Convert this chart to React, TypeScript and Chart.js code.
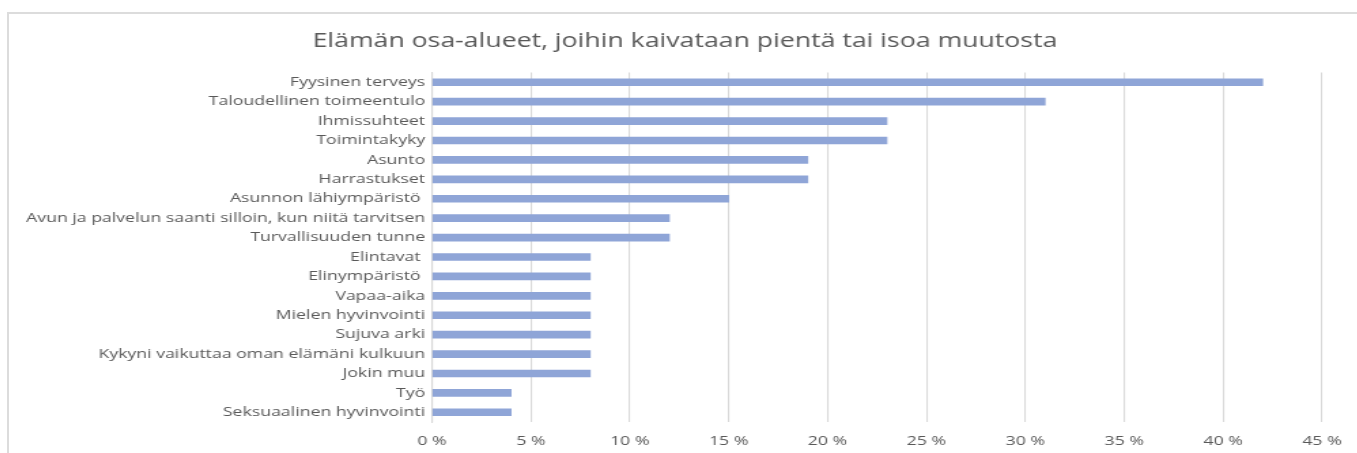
import React, { useEffect, useRef } from "react";
import { Chart, registerables } from "chart.js";

Chart.register(...registerables);

const title = "Elämän osa-alueet, joihin kaivataan pientä tai isoa muutosta";

const categories = [
  "Fyysinen terveys",
  "Taloudellinen toimeentulo",
  "Ihmissuhteet",
  "Toimintakyky",
  "Asunto",
  "Harrastukset",
  "Asunnon lähiympäristö ",
  "Avun ja palvelun saanti silloin, kun niitä tarvitsen",
  "Turvallisuuden tunne",
  "Elintavat ",
  "Elinympäristö ",
  "Vapaa-aika",
  "Mielen hyvinvointi",
  "Sujuva arki",
  "Kykyni vaikuttaa oman elämäni kulkuun",
  "Jokin muu",
  "Työ",
  "Seksuaalinen hyvinvointi",
];

const values = [42, 31, 23, 23, 19, 19, 15, 12, 12, 8, 8, 8, 8, 8, 8, 8, 4, 4];

const xMin = 0;
const xMax = 45;
const xStep = 5;

// horizontal stretch of the original picture
const SX = 1.36;
const PAGE_W = 1356;
const CANVAS_W = Math.round(PAGE_W / SX);
const CANVAS_H = 453;

export default function App() {
  const ref = useRef<HTMLCanvasElement | null>(null);

  useEffect(() => {
    if (!ref.current) return;
    const plotLeft = (432 - 7) / SX;
    const plotRight = (1322 - 7) / SX;
    const side = CANVAS_W - plotRight;
    const chart = new Chart(ref.current, {
      type: "bar",
      data: {
        labels: categories,
        datasets: [
          {
            data: values,
            backgroundColor: "#8FA5D7",
            barThickness: 7,
          },
        ],
      },
      options: {
        indexAxis: "y",
        responsive: false,
        animation: false,
        maintainAspectRatio: false,
        layout: { padding: 0 },
        plugins: {
          legend: { display: false },
          tooltip: { enabled: false },
          title: {
            display: true,
            text: title,
            color: "#595959",
            font: { family: "'Open Sans'", size: 19.6, weight: "normal" },
            padding: { top: 30, bottom: 19 },
          },
        },
        scales: {
          x: {
            min: xMin,
            max: xMax,
            ticks: {
              stepSize: xStep,
              color: "#595959",
              font: { family: "'Open Sans'", size: 13 },
              padding: 11,
              callback: (v: any) => `${v} %`,
            },
            grid: { color: "#d9d9d9", lineWidth: 1.1, drawTicks: false },
            border: { display: false },
            afterFit: (s: any) => {
              s.height = 31;
            },
          },
          y: {
            ticks: {
              color: "#595959",
              font: { family: "'Open Sans'", size: 13 },
              padding: 5,
              autoSkip: false,
            },
            grid: { display: false, drawTicks: false },
            border: { display: true, color: "#d9d9d9", width: 1.1 },
            afterFit: (s: any) => {
              s.width = plotLeft;
            },
          },
          spacer: {
            type: "category",
            axis: "y",
            position: "right",
            labels: categories,
            ticks: { display: false },
            grid: { display: false, drawTicks: false },
            border: { display: false },
            afterFit: (s: any) => {
              s.width = side;
            },
          },
        },
      },
    });
    return () => chart.destroy();
  }, []);

  return (
    <div>
      <div
        style={{
          position: "fixed",
          left: 7,
          top: 12,
          width: 1360,
          height: 450,
          borderTop: "2px solid #dcdcdc",
          borderLeft: "2px solid #dcdcdc",
          boxSizing: "border-box",
        }}
      />
      <div
        style={{
          position: "fixed",
          left: 7,
          top: 0,
          width: CANVAS_W,
          height: CANVAS_H,
          transform: `scaleX(${SX})`,
          transformOrigin: "0 0",
        }}
      >
        <canvas
          ref={ref}
          width={CANVAS_W}
          height={CANVAS_H}
          style={{ display: "block", width: CANVAS_W, height: CANVAS_H }}
        />
      </div>
    </div>
  );
}
